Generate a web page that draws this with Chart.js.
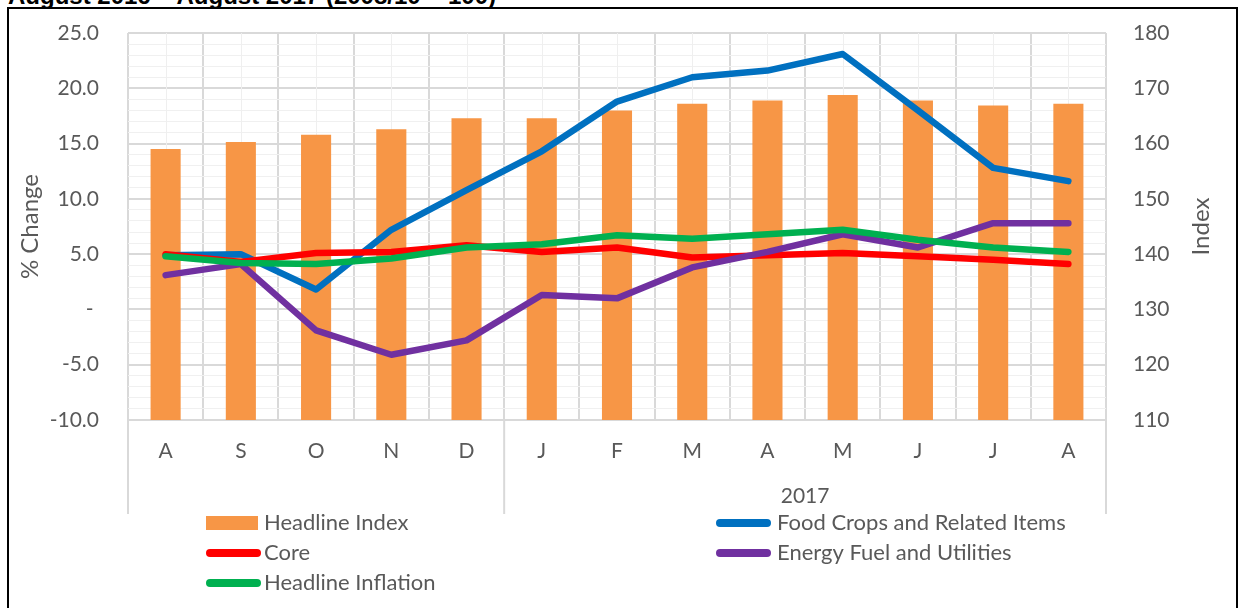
<!DOCTYPE html>
<html><head><meta charset="utf-8">
<script src="https://cdn.jsdelivr.net/npm/chart.js@4.4.0/dist/chart.umd.min.js"></script>
<style>
html,body{margin:0;padding:0;background:#fff;overflow:hidden}
#wrap{position:relative;width:1240px;height:608px;overflow:hidden;background:#fff}
#title{position:absolute;left:8px;top:-18px;font:bold 24px "Liberation Sans",Arial,sans-serif;line-height:27px;color:#000;white-space:nowrap}
#frame{position:absolute;left:7px;top:7px;width:1231px;height:620px;border:2px solid #000;box-sizing:border-box}
canvas{position:absolute;left:0;top:0}
</style></head><body>
<div id="wrap">
<div id="title">August 2016 – August 2017 (2008/10 = 100)</div>
<div id="frame"></div>
<canvas id="c" width="1240" height="608"></canvas>
</div>
<script>
const categories = ['A','S','O','N','D','J','F','M','A','M','J','J','A'];
const groupLabels = ['', '2017'];
const groupStarts = [0, 5];
const headlineIndex = [159.0, 160.3, 161.6, 162.6, 164.6, 164.6, 166.0, 167.2, 167.8, 168.8, 167.8, 166.9, 167.2];
const foodCrops = [4.9, 5.0, 1.8, 7.2, 10.8, 14.3, 18.8, 21.0, 21.6, 23.1, 18.0, 12.8, 11.6];
const core = [5.0, 4.3, 5.1, 5.2, 5.8, 5.2, 5.6, 4.7, 4.9, 5.1, 4.8, 4.5, 4.1];
const energy = [3.1, 4.1, -1.9, -4.1, -2.8, 1.3, 1.0, 3.8, 5.2, 6.8, 5.6, 7.8, 7.8];
const headlineInflation = [4.8, 4.2, 4.1, 4.6, 5.6, 5.9, 6.7, 6.4, 6.8, 7.2, 6.3, 5.6, 5.2];
const seriesNames = ['Headline Index','Food Crops and Related Items','Core','Energy Fuel and Utilities','Headline Inflation'];
const leftAxisTitle = '% Change';
const rightAxisTitle = 'Index';

const FONT = 'Lato, "Open Sans", sans-serif';
const TXT = '#595959';
const COLORS = ['#F79646','#0070C0','#FF0000','#7030A0','#00B050'];

function lineDs(i, data, order){
  return {type:'line', label:seriesNames[i], data, yAxisID:'y', borderColor:COLORS[i], backgroundColor:COLORS[i],
    borderWidth:6.5, pointRadius:0, tension:0, borderCapStyle:'round', borderJoinStyle:'round', order};
}

const extras = {
  id:'extras',
  beforeDatasetsDraw(chart){
    const {ctx, chartArea:a, scales:{x}} = chart;
    ctx.save(); ctx.strokeStyle='#efefef'; ctx.lineWidth=1;
    for(let i=0;i<categories.length;i++){
      const px=Math.round(x.getPixelForValue(i))+0.5;
      ctx.beginPath(); ctx.moveTo(px,a.top); ctx.lineTo(px,a.bottom-1); ctx.stroke();
    }
    ctx.restore();
  },
  afterDraw(chart){
    const {ctx, chartArea:a, scales:{x}} = chart;
    ctx.save();
    const half = (x.getPixelForValue(1)-x.getPixelForValue(0))/2;
    ctx.strokeStyle='#d9d9d9'; ctx.lineWidth=2;
    const seps=[a.left, a.right];
    groupStarts.forEach(s=>{ if(s>0) seps.push(x.getPixelForValue(s)-half); });
    seps.forEach(px=>{ ctx.beginPath(); ctx.moveTo(px,a.bottom); ctx.lineTo(px,514); ctx.stroke(); });
    ctx.fillStyle=TXT; ctx.font='21px '+FONT; ctx.textAlign='center'; ctx.textBaseline='middle';
    groupStarts.forEach((s,gi)=>{
      const e = gi+1<groupStarts.length ? groupStarts[gi+1]-1 : categories.length-1;
      const cx=(x.getPixelForValue(s)+x.getPixelForValue(e))/2;
      if(groupLabels[gi]) ctx.fillText(groupLabels[gi], cx, 496);
    });
    ctx.font='24px '+FONT;
    ctx.save(); ctx.translate(30,(a.top+a.bottom)/2); ctx.rotate(-Math.PI/2); ctx.fillText(leftAxisTitle,0,0); ctx.restore();
    ctx.save(); ctx.translate(1201,(a.top+a.bottom)/2); ctx.rotate(-Math.PI/2); ctx.fillText(rightAxisTitle,0,0); ctx.restore();
    const items=[{d:0,x:206,y:523},{d:1,x:716,y:523},{d:2,x:206,y:553},{d:3,x:716,y:553},{d:4,x:206,y:583}];
    ctx.font='22px '+FONT; ctx.textAlign='left'; ctx.textBaseline='middle';
    items.forEach(it=>{
      const ds=chart.data.datasets[it.d];
      if(ds.type==='bar'){
        ctx.fillStyle=ds.backgroundColor; ctx.fillRect(it.x,it.y-7,52,14);
      } else {
        ctx.strokeStyle=ds.borderColor; ctx.lineWidth=8; ctx.lineCap='round';
        ctx.beginPath(); ctx.moveTo(it.x+4,it.y); ctx.lineTo(it.x+51,it.y); ctx.stroke();
      }
      ctx.fillStyle=TXT; ctx.fillText(ds.label, it.x + (it.x>500 ? 61 : 58), it.y);
    });
    ctx.restore();
  }
};

new Chart(document.getElementById('c'), {
  data:{
    labels:categories,
    datasets:[
      {type:'bar', label:seriesNames[0], data:headlineIndex, yAxisID:'y1', backgroundColor:COLORS[0], borderWidth:0,
       categoryPercentage:1, barPercentage:0.4, order:5},
      lineDs(1, foodCrops, 4),
      lineDs(2, core, 3),
      lineDs(3, energy, 2),
      lineDs(4, headlineInflation, 1)
    ]
  },
  options:{
    responsive:false, animation:false, devicePixelRatio:1,
    layout:{padding:{top:33,left:0,right:0,bottom:0}},
    plugins:{legend:{display:false}, tooltip:{enabled:false}},
    scales:{
      x:{offset:true,
        grid:{color:'#d9d9d9', lineWidth:2, drawTicks:false, offset:true},
        border:{color:'#d9d9d9', width:2},
        ticks:{color:TXT, font:{family:FONT,size:21}, padding:19, autoSkip:false, maxRotation:0},
        afterFit(s){ s.height=188; }},
      y:{position:'left', min:-10, max:25,
        ticks:{stepSize:1, autoSkip:false, color:TXT, font:{family:FONT,size:21}, padding:3,
          callback:v=> v%5===0 ? (v===0 ? '-\u00a0' : v.toFixed(1)) : ''},
        grid:{drawTicks:true, tickLength:26, tickColor:'rgba(0,0,0,0)',
          color:c=> (c.tick && c.tick.value%5===0) ? '#d9d9d9' : '#f0f0f0',
          lineWidth:c=> (c.tick && c.tick.value%5===0) ? 2 : 1},
        border:{display:false},
        afterFit(s){ s.width=128; }},
      y1:{position:'right', min:110, max:180,
        ticks:{stepSize:10, color:TXT, font:{family:FONT,size:21}, padding:3},
        grid:{display:true, drawOnChartArea:false, drawTicks:true, tickLength:24, tickColor:'rgba(0,0,0,0)', color:'rgba(0,0,0,0)'},
        border:{display:false},
        afterFit(s){ s.width=134; }}
    }
  },
  plugins:[extras]
});
</script>
</body></html>
